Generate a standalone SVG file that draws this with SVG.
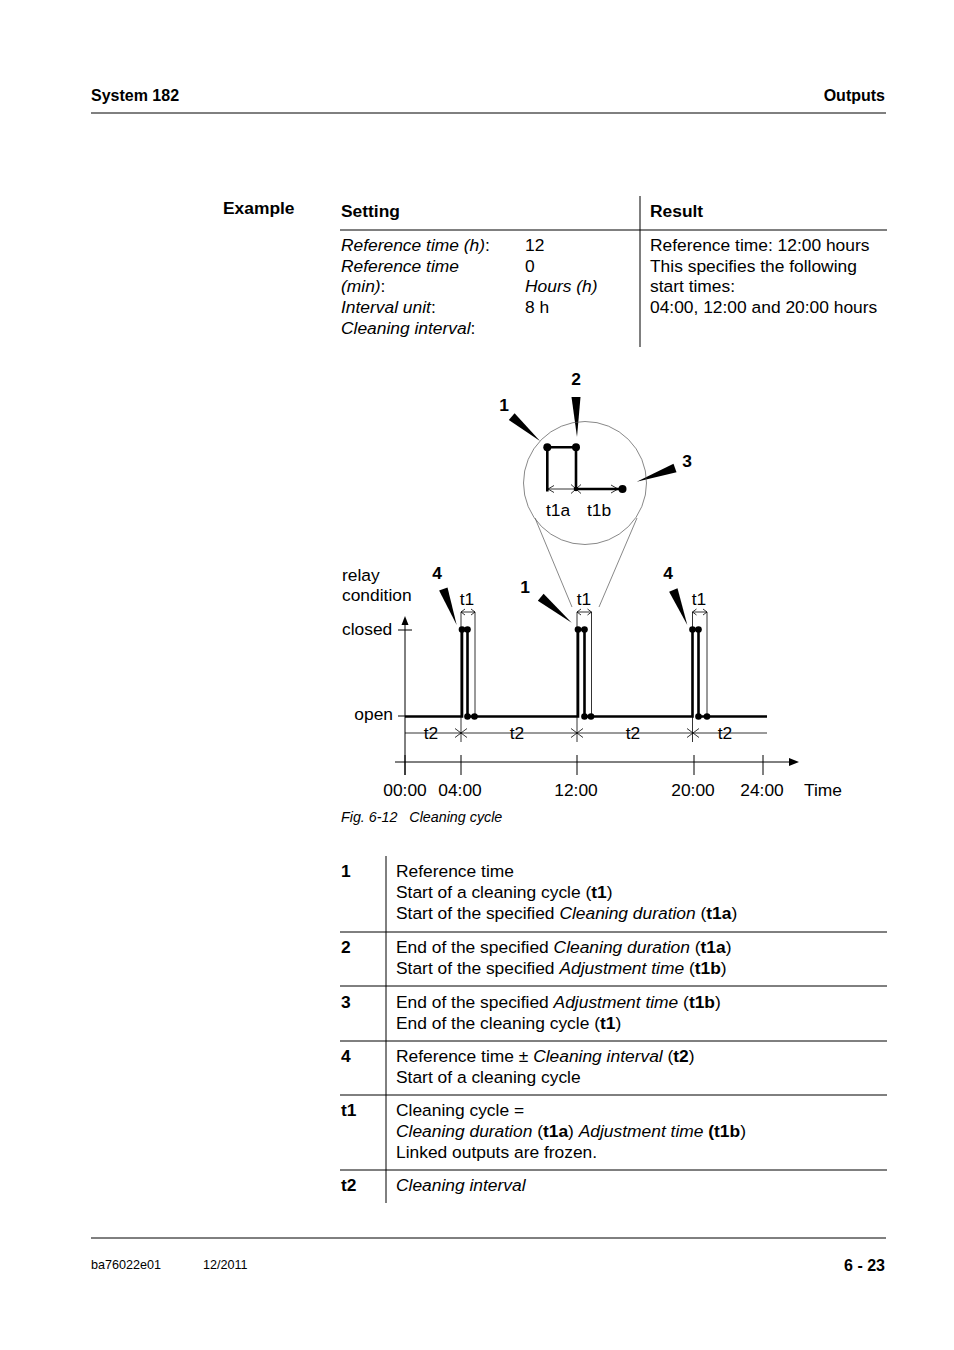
<svg xmlns="http://www.w3.org/2000/svg" width="954" height="1350" viewBox="0 0 954 1350">
<style>
text{font-family:"Liberation Sans",Arial,sans-serif;fill:#000}
.b{font-weight:bold}
.i{font-style:italic}
.t{font-size:17.4px}
.ln{stroke:#000;stroke-width:1;fill:none}
.thin{stroke:#000;stroke-width:0.8;fill:none}
.sig{stroke:#000;stroke-width:2.6;fill:none;stroke-linejoin:miter}
.gr{stroke:#555;stroke-width:0.7;fill:none}
.dot{fill:#000}
.wedge{fill:#000}
</style>
<rect x="0" y="0" width="954" height="1350" fill="#fff"/>
<g id="header">
<text x="91" y="101" class="b" font-size="16">System 182</text>
<text x="885" y="101" class="b" font-size="16" text-anchor="end">Outputs</text>
<line x1="91" y1="113" x2="886" y2="113" class="ln"/>
</g>
<g id="footer">
<line x1="91" y1="1238" x2="886" y2="1238" class="ln"/>
<text x="91" y="1269" font-size="12.6">ba76022e01</text>
<text x="203" y="1269" font-size="12.6">12/2011</text>
<text x="885" y="1271" class="b" font-size="16" text-anchor="end">6 - 23</text>
</g>
<g id="example-table" class="t">
<text x="223" y="214" class="b t">Example</text>
<line x1="640" y1="196" x2="640" y2="347" class="ln"/>
<line x1="340" y1="230" x2="887" y2="230" class="ln"/>
<text x="341" y="217" class="b t">Setting</text>
<text x="650" y="217" class="b t">Result</text>
<text x="341" y="251" class="t"><tspan class="i">Reference time (h)</tspan>:</text>
<text x="341" y="272" class="t i">Reference time</text>
<text x="341" y="292" class="t"><tspan class="i">(min)</tspan>:</text>
<text x="341" y="313" class="t"><tspan class="i">Interval unit</tspan>:</text>
<text x="341" y="334" class="t"><tspan class="i">Cleaning interval</tspan>:</text>
<text x="525" y="251" class="t">12</text>
<text x="525" y="272" class="t">0</text>
<text x="525" y="292" class="t i">Hours (h)</text>
<text x="525" y="313" class="t">8 h</text>
<text x="650" y="251" class="t">Reference time: 12:00 hours</text>
<text x="650" y="272" class="t">This specifies the following</text>
<text x="650" y="292" class="t">start times:</text>
<text x="650" y="313" class="t">04:00, 12:00 and 20:00 hours</text>
</g>
<g id="connectors">
<line x1="535" y1="518" x2="572" y2="607" class="gr"/>
<line x1="637" y1="518" x2="599" y2="607" class="gr"/>
<polygon class="wedge" points="508.8,420.1 514.6,413.3 540,441"/>
<polygon class="wedge" points="571.5,397 580.5,397 577,437"/>
<polygon class="wedge" points="676.5,472.2 673.5,463.8 636.7,481.7"/>
<polygon class="wedge" points="537.8,600.8 543.6,593.8 571.7,622.7"/>
<polygon class="wedge" points="439.1,590.6 447.5,587.4 456.7,625"/>
<polygon class="wedge" points="669.1,591.7 677.5,588.3 687.3,625"/>
</g>
<g id="magnifier">
<circle cx="585" cy="483" r="61.5" class="gr"/>
<path d="M547.3,491.5 V447.3 H576 V489" class="sig" stroke-width="2.2"/>
<line x1="576" y1="489" x2="620" y2="489" class="sig" stroke-width="2"/>
<line x1="548" y1="489" x2="576" y2="489" class="thin"/>
<polyline points="554,485.5 548,489 554,492.5" class="thin"/>
<polyline points="611,485 618,489 611,493" class="thin" stroke-width="1.2"/>
<path d="M571,484.5 L581,493.5 M571,493.5 L581,484.5" class="thin" stroke-width="1.1"/>
<circle cx="576" cy="489" r="2.3" class="dot"/>
<circle cx="547.3" cy="447.3" r="4" class="dot"/>
<circle cx="576" cy="447.3" r="4" class="dot"/>
<circle cx="622.5" cy="489" r="4" class="dot"/>
<text x="558" y="516" class="t" text-anchor="middle">t1a</text>
<text x="599" y="516" class="t" text-anchor="middle">t1b</text>
<text x="504" y="411" class="t b" text-anchor="middle">1</text>
<text x="576" y="385" class="t b" text-anchor="middle">2</text>
<text x="687" y="467" class="t b" text-anchor="middle">3</text>
</g>
<g id="chart">
<text x="342" y="581" class="t">relay</text>
<text x="342" y="601" class="t">condition</text>
<text x="342" y="635" class="t">closed</text>
<text x="393" y="720" class="t" text-anchor="end">open</text>
<line x1="405" y1="775" x2="405" y2="623" class="ln" stroke-width="1.2"/>
<polygon points="405,616 401.5,625 408.5,625" class="dot"/>
<line x1="398" y1="630" x2="412" y2="630" class="ln"/>
<line x1="398" y1="716" x2="405" y2="716" class="ln"/>
<line x1="395" y1="762" x2="791" y2="762" class="ln" stroke-width="1.2"/>
<polygon points="799,762 789,758 789,766" class="dot"/>
<path d="M405,755 V775 M461,755 V775 M577,755 V775 M694,755 V775 M763,755 V775" class="ln"/>
<text x="405" y="796" class="t" text-anchor="middle">00:00</text>
<text x="460" y="796" class="t" text-anchor="middle">04:00</text>
<text x="576" y="796" class="t" text-anchor="middle">12:00</text>
<text x="693" y="796" class="t" text-anchor="middle">20:00</text>
<text x="762" y="796" class="t" text-anchor="middle">24:00</text>
<text x="804" y="796" class="t">Time</text>
<line x1="405" y1="733" x2="767" y2="733" class="thin"/>
<path d="M455,728.5 L467,737.5 M455,737.5 L467,728.5 M571,728.5 L583,737.5 M571,737.5 L583,728.5 M687,728.5 L699,737.5 M687,737.5 L699,728.5" class="thin" stroke-width="1"/>
<text x="431" y="739" class="t" text-anchor="middle">t2</text>
<text x="517" y="739" class="t" text-anchor="middle">t2</text>
<text x="633" y="739" class="t" text-anchor="middle">t2</text>
<text x="725" y="739" class="t" text-anchor="middle">t2</text>
<path d="M405,716.5 H462 V629.5 H467.5 V716.5 H578 V629.5 H584.5 V716.5 H692.5 V629.5 H698.5 V716.5 H767" class="sig"/>
<path d="M461,612 V742 M475,612 V716 M577,612 V742 M591.5,612 V716 M692.5,612 V742 M707,612 V716" class="thin"/>
<path d="M461,612 H475 M465,609 L461,612 L465,615 M471,609 L475,612 L471,615 M577,612 H591.5 M581,609 L577,612 L581,615 M587.5,609 L591.5,612 L587.5,615 M692.5,612 H707 M696.5,609 L692.5,612 L696.5,615 M703,609 L707,612 L703,615" class="thin" stroke-width="1"/>
<circle cx="462" cy="629.5" r="3.3" class="dot"/>
<circle cx="467.5" cy="629.5" r="3.3" class="dot"/>
<circle cx="467.5" cy="716.5" r="3.3" class="dot"/>
<circle cx="474.5" cy="716.5" r="3.3" class="dot"/>
<circle cx="578" cy="629.5" r="3.3" class="dot"/>
<circle cx="584.5" cy="629.5" r="3.3" class="dot"/>
<circle cx="584.5" cy="716.5" r="3.3" class="dot"/>
<circle cx="591" cy="716.5" r="3.3" class="dot"/>
<circle cx="692.5" cy="629.5" r="3.3" class="dot"/>
<circle cx="698.5" cy="629.5" r="3.3" class="dot"/>
<circle cx="698.5" cy="716.5" r="3.3" class="dot"/>
<circle cx="707" cy="716.5" r="3.3" class="dot"/>
<text x="467" y="605" class="t" text-anchor="middle">t1</text>
<text x="584" y="605" class="t" text-anchor="middle">t1</text>
<text x="699" y="605" class="t" text-anchor="middle">t1</text>
<text x="437" y="579" class="t b" text-anchor="middle">4</text>
<text x="525" y="593" class="t b" text-anchor="middle">1</text>
<text x="668" y="579" class="t b" text-anchor="middle">4</text>
<text x="341" y="822" class="i" font-size="14.3" xml:space="preserve">Fig. 6-12   Cleaning cycle</text>
</g>
<g id="legend-table">
<line x1="386" y1="856" x2="386" y2="1203" class="ln"/>
<path d="M340,932 H887 M340,986 H887 M340,1041 H887 M340,1095 H887 M340,1170 H887" class="ln"/>
<text x="341" y="877" class="t b">1</text>
<text x="341" y="953" class="t b">2</text>
<text x="341" y="1008" class="t b">3</text>
<text x="341" y="1062" class="t b">4</text>
<text x="341" y="1116" class="t b">t1</text>
<text x="341" y="1191" class="t b">t2</text>
<text x="396" y="877" class="t">Reference time</text>
<text x="396" y="898" class="t">Start of a cleaning cycle (<tspan class="b">t1</tspan>)</text>
<text x="396" y="919" class="t">Start of the specified <tspan class="i">Cleaning duration</tspan> (<tspan class="b">t1a</tspan>)</text>
<text x="396" y="953" class="t">End of the specified <tspan class="i">Cleaning duration</tspan> (<tspan class="b">t1a</tspan>)</text>
<text x="396" y="974" class="t">Start of the specified <tspan class="i">Adjustment time</tspan> (<tspan class="b">t1b</tspan>)</text>
<text x="396" y="1008" class="t">End of the specified <tspan class="i">Adjustment time</tspan> (<tspan class="b">t1b</tspan>)</text>
<text x="396" y="1029" class="t">End of the cleaning cycle (<tspan class="b">t1</tspan>)</text>
<text x="396" y="1062" class="t">Reference time ± <tspan class="i">Cleaning interval</tspan> (<tspan class="b">t2</tspan>)</text>
<text x="396" y="1083" class="t">Start of a cleaning cycle</text>
<text x="396" y="1116" class="t">Cleaning cycle =</text>
<text x="396" y="1137" class="t"><tspan class="i">Cleaning duration</tspan> (<tspan class="b">t1a</tspan>) <tspan class="i">Adjustment time</tspan> <tspan class="b">(t1b</tspan>)</text>
<text x="396" y="1158" class="t">Linked outputs are frozen.</text>
<text x="396" y="1191" class="t i">Cleaning interval</text>
</g>
</svg>
